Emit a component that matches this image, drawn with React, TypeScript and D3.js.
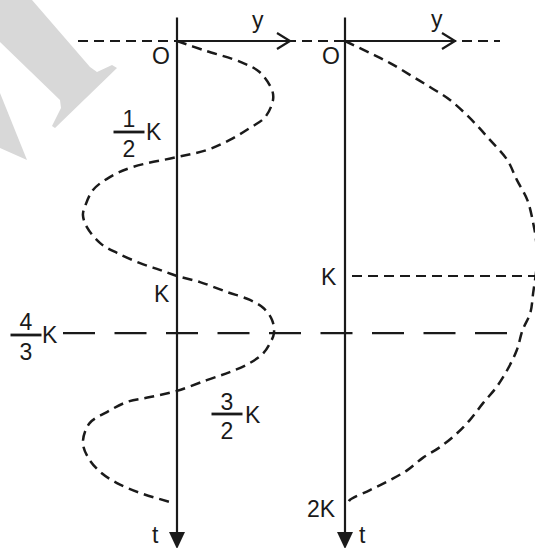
import React from "react";
import * as d3 from "d3";

// time in units of K (downward), displacement in amplitude units
const leftT = [0, 0.038, 0.089, 0.132, 0.209, 0.251, 0.323, 0.37, 0.421, 0.464, 0.494, 0.536, 0.579, 0.634, 0.706, 0.74, 0.791, 0.86, 0.902, 0.945, 0.974, 1.0, 1.026, 1.068, 1.102, 1.136, 1.187, 1.243, 1.285, 1.328, 1.37, 1.409, 1.443, 1.489, 1.515, 1.536, 1.579, 1.626, 1.706, 1.77, 1.834, 1.881, 1.923, 1.962];
const leftY = [0, 0.27, 0.66, 0.86, 0.99, 1.0, 0.92, 0.76, 0.55, 0.31, 0, -0.46, -0.7, -0.875, -0.96, -0.98, -0.94, -0.8, -0.625, -0.385, -0.18, 0, 0.24, 0.52, 0.76, 0.9, 0.99, 1.01, 0.97, 0.9, 0.76, 0.55, 0.31, 0, -0.28, -0.52, -0.73, -0.91, -0.98, -0.93, -0.8, -0.625, -0.385, -0.07];

const rightT = [0, 0.051, 0.094, 0.145, 0.196, 0.251, 0.336, 0.421, 0.506, 0.591, 0.677, 0.774, 0.847, 0.94, 1.072, 1.157, 1.23, 1.315, 1.4, 1.472, 1.54, 1.613, 1.668, 1.728, 1.774, 1.826, 1.868, 1.911, 1.953, 1.966];
const rightY = [0, 0.26, 0.47, 0.68, 0.885, 1.094, 1.32, 1.51, 1.69, 1.79, 1.9, 1.96, 1.99, 2.0, 1.96, 1.93, 1.85, 1.79, 1.69, 1.58, 1.44, 1.3, 1.17, 0.99, 0.81, 0.65, 0.47, 0.26, 0.05, 0.03];

// marker positions (in K units, as drawn)
const markK = 1.0;
const markFourThirds = 1.243;

const watermarkA: [number, number][] = [[0, 0], [32, 0], [90, 67], [97, 72], [112, 65], [117, 68], [55, 128], [52, 126], [61, 108], [60, 100], [0, 42]];
const watermarkB: [number, number][] = [[0, 93], [27, 160], [0, 148]];

const FONT = "'Liberation Sans', Arial, sans-serif";
const INK = "#1a1a1a";

export default function App() {
  const W = 535, H = 548;
  const tScale = d3.scaleLinear().domain([0, 2]).range([41, 511]);
  const xLeft = d3.scaleLinear().domain([0, 1]).range([177, 273]);
  const xRight = d3.scaleLinear().domain([0, 1]).range([345, 441]);

  const lineL = d3.line<number>()
    .x((i) => xLeft(leftY[i]))
    .y((i) => tScale(leftT[i]))
    .curve(d3.curveCatmullRom.alpha(0.5));
  const lineR = d3.line<number>()
    .x((i) => xRight(rightY[i]))
    .y((i) => tScale(rightT[i]))
    .curve(d3.curveCatmullRom.alpha(0.5));

  const y0 = tScale(0);
  const yK = tScale(markK);
  const y43 = tScale(markFourThirds);
  const axL = xLeft(0);
  const axR = xRight(0);
  const top = tScale(-0.1);
  const arrowBase = 532;
  const arrowTip = 549;

  const txt = (x: number, y: number, s: string, anchor: string = "start") => (
    <text x={x} y={y} fontFamily={FONT} fontSize={23} fill={INK} textAnchor={anchor}>{s}</text>
  );

  const frac = (cx: number, numBase: number, barY: number, denBase: number, num: string, den: string, barW: number) => (
    <g>
      <text x={cx} y={numBase} fontFamily={FONT} fontSize={23} fill={INK} textAnchor="middle">{num}</text>
      <line x1={cx - barW / 2} x2={cx + barW / 2} y1={barY} y2={barY} stroke={INK} strokeWidth={2.8} />
      <text x={cx} y={denBase} fontFamily={FONT} fontSize={23} fill={INK} textAnchor="middle">{den}</text>
    </g>
  );

  return (
    <svg width={W} height={H} style={{ position: "absolute", left: 0, top: 0, background: "#fff" }}>
      <rect x={0} y={0} width={W} height={H} fill="#fff" />
      <polygon points={watermarkA.map((p) => p.join(",")).join(" ")} fill="#d8d8d8" />
      <polygon points={watermarkB.map((p) => p.join(",")).join(" ")} fill="#d8d8d8" />

      {/* top dashed reference line */}
      <line x1={78} x2={500} y1={y0} y2={y0} stroke={INK} strokeWidth={2.2} strokeDasharray="10 6" />
      {/* long dashed 4/3 K line */}
      <line x1={63} x2={507} y1={y43} y2={y43} stroke={INK} strokeWidth={2.2} strokeDasharray="32 19.5" />
      {/* short dashed K line right */}
      <line x1={352} x2={535} y1={yK} y2={yK} stroke={INK} strokeWidth={2.2} strokeDasharray="10 6" />

      {/* vertical t axes */}
      {[axL, axR].map((ax, i) => (
        <g key={i}>
          <line x1={ax} x2={ax} y1={top} y2={arrowBase + 2} stroke={INK} strokeWidth={2.2} />
          <polygon points={`${ax - 8},${arrowBase} ${ax + 8},${arrowBase} ${ax},${arrowTip}`} fill={INK} />
        </g>
      ))}

      {/* y arrows */}
      <line x1={axL} x2={290} y1={y0} y2={y0} stroke={INK} strokeWidth={2.2} />
      <polyline points={`277,33 290,${y0} 277,49`} fill="none" stroke={INK} strokeWidth={2.2} />
      <line x1={axR} x2={455} y1={y0} y2={y0} stroke={INK} strokeWidth={2.2} />
      <polyline points={`442,33 455,${y0} 442,49`} fill="none" stroke={INK} strokeWidth={2.2} />

      {/* curves */}
      <path d={lineL(d3.range(leftT.length)) || ""} fill="none" stroke={INK} strokeWidth={2.5} strokeDasharray="10 6" />
      <path d={lineR(d3.range(rightT.length)) || ""} fill="none" stroke={INK} strokeWidth={2.5} strokeDasharray="10 6" />

      {/* labels */}
      {txt(252, 28, "y")}
      {txt(431, 27, "y")}
      {txt(152, 64, "O")}
      {txt(322, 64, "O")}
      {frac(129, 127, 132, 157, "1", "2", 31)}
      {txt(146, 140, "K")}
      {txt(154, 302, "K")}
      {frac(26, 330, 335, 360, "4", "3", 31)}
      {txt(42, 343, "K")}
      {frac(227, 410, 414, 439, "3", "2", 31)}
      {txt(245, 423, "K")}
      {txt(321, 285, "K")}
      {txt(307, 517, "2K")}
      {txt(152, 543, "t")}
      {txt(359, 543, "t")}
    </svg>
  );
}
